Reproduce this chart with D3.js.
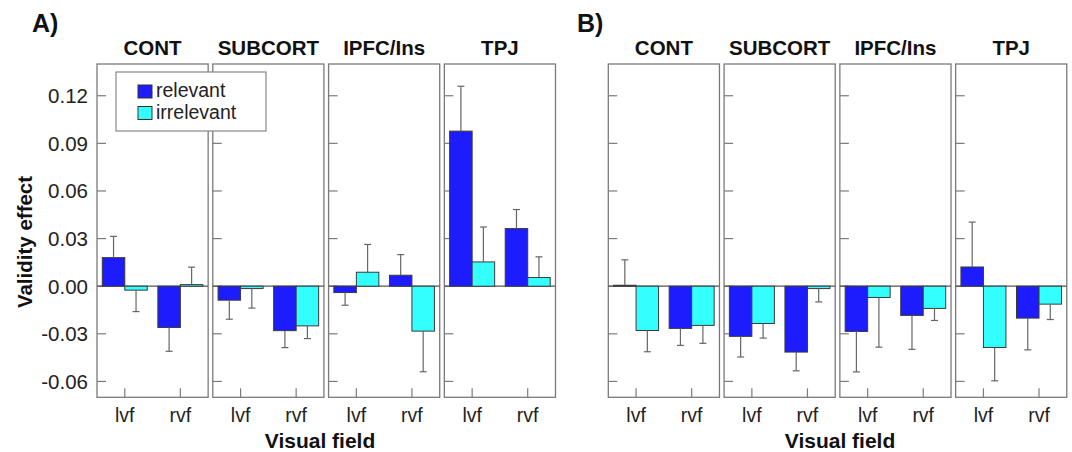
<!DOCTYPE html>
<html lang="en">
<head>
  <meta charset="utf-8" />
  <title>Validity effect by region</title>
  <script src="https://cdn.jsdelivr.net/npm/d3@7"></script>
  <style>
    body {
      margin: 0;
      background: #fff;
      font-family: "Liberation Sans", Arial, Helvetica, sans-serif;
    }
  </style>
</head>
<body>
  <div id="chart"></div>

  <script type="text/javascript">

    // ---- data ----
    const regions = ["CONT", "SUBCORT", "IPFC/Ins", "TPJ"];
    const fields = ["lvf", "rvf"];
    const series = ["relevant", "irrelevant"];
    const yTicks = [-0.06, -0.03, 0.00, 0.03, 0.06, 0.09, 0.12];

    // values per region: [lvf relevant, lvf irrelevant, rvf relevant, rvf irrelevant]
    const meansA = [
      [0.018, -0.0025, -0.026, 0.001],
      [-0.0088, -0.0015, -0.028, -0.025],
      [-0.004, 0.0088, 0.0069, -0.0283],
      [0.0977, 0.0153, 0.0363, 0.0055]
    ];
    const errA = [
      [0.0134, 0.0135, 0.015, 0.011],
      [0.012, 0.0123, 0.0107, 0.008],
      [0.008, 0.0175, 0.013, 0.0256],
      [0.0283, 0.022, 0.012, 0.013]
    ];
    const meansB = [
      [0.0006, -0.0279, -0.0266, -0.0247],
      [-0.0316, -0.0235, -0.0415, -0.0015],
      [-0.0285, -0.0071, -0.0184, -0.014],
      [0.0121, -0.0386, -0.0201, -0.0113]
    ];
    const errB = [
      [0.016, 0.0134, 0.0107, 0.0113],
      [0.013, 0.0092, 0.0118, 0.0084],
      [0.0255, 0.0313, 0.0214, 0.0076],
      [0.0283, 0.021, 0.020, 0.0097]
    ];

    const w = 1072;
    const h = 452;
    const plotTop = 64;
    const plotBottom = 397.3;

    const color = d3.scaleOrdinal()
        .domain(series)
        .range(["#1c1cff", "#33ffff"]);

    const y = d3.scaleLinear()
        .domain([-0.07, 0.14])
        .range([plotBottom, plotTop]);

    const svg = d3.select("#chart")
        .append("svg")
        .attr("width", w)
        .attr("height", h);

    function toRows(means, errs) {
      const rows = [];
      regions.forEach((r, ri) => {
        fields.forEach((f, fi) => {
          series.forEach((s, si) => {
            rows.push({ region: r, field: f, series: s,
                        value: means[ri][fi * 2 + si],
                        err: errs[ri][fi * 2 + si] });
          });
        });
      });
      return rows;
    }

    function drawFigure(x0, x1, letter, letterX, titleX, means, errs, withLabels) {
      const rows = toRows(means, errs);

      const xPanel = d3.scaleBand()
          .domain(regions)
          .range([x0, x1])
          .paddingInner(0.04);
      const pw = xPanel.bandwidth();

      const xField = d3.scalePoint()
          .domain(fields)
          .range([0, pw])
          .padding(0.5);

      const xSeries = d3.scaleBand()
          .domain(series)
          .range([-22.5, 22.5]);

      const g = svg.append("g");

      // letter
      g.append("text")
          .attr("x", letterX)
          .attr("y", 32)
          .attr("font-size", 25)
          .attr("font-weight", "bold")
          .attr("fill", "#111")
          .text(letter);

      const panels = g.selectAll("g.panel")
          .data(regions)
          .enter()
          .append("g")
          .attr("class", "panel")
          .attr("transform", d => "translate(" + xPanel(d) + ",0)");

      // panel titles
      panels.append("text")
          .attr("x", pw / 2)
          .attr("y", 55)
          .attr("text-anchor", "middle")
          .attr("font-size", 20.5)
          .attr("font-weight", "bold")
          .attr("fill", "#111")
          .text(d => d);

      // frame
      panels.append("rect")
          .attr("x", 0)
          .attr("y", plotTop)
          .attr("width", pw)
          .attr("height", plotBottom - plotTop)
          .attr("fill", "none")
          .attr("stroke", "#7a7a7a")
          .attr("stroke-width", 1.3);

      // y ticks (inward)
      panels.selectAll("line.ytick")
          .data(yTicks)
          .enter()
          .append("line")
          .attr("class", "ytick")
          .attr("x1", 0)
          .attr("x2", 9)
          .attr("y1", d => y(d))
          .attr("y2", d => y(d))
          .attr("stroke", "#7a7a7a")
          .attr("stroke-width", 1.2);

      // x ticks (inward)
      panels.selectAll("line.xtick")
          .data(fields)
          .enter()
          .append("line")
          .attr("class", "xtick")
          .attr("x1", d => xField(d))
          .attr("x2", d => xField(d))
          .attr("y1", plotBottom)
          .attr("y2", plotBottom - 9)
          .attr("stroke", "#7a7a7a")
          .attr("stroke-width", 1.2);

      // x labels
      panels.selectAll("text.xlab")
          .data(fields)
          .enter()
          .append("text")
          .attr("class", "xlab")
          .attr("x", d => xField(d))
          .attr("y", 422)
          .attr("text-anchor", "middle")
          .attr("font-size", 19.5)
          .attr("fill", "#222")
          .text(d => d);

      // zero line
      panels.append("line")
          .attr("x1", 0)
          .attr("x2", pw)
          .attr("y1", y(0))
          .attr("y2", y(0))
          .attr("stroke", "#555")
          .attr("stroke-width", 1.2);

      // bars
      panels.each(function(region) {
        const p = d3.select(this);
        const data = rows.filter(r => r.region === region);
        const bx = d => xField(d.field) + xSeries(d.series);

        p.selectAll("rect.bar")
            .data(data)
            .enter()
            .append("rect")
            .attr("class", "bar")
            .attr("x", bx)
            .attr("y", d => y(Math.max(0, d.value)))
            .attr("width", xSeries.bandwidth())
            .attr("height", d => Math.abs(y(d.value) - y(0)))
            .attr("fill", d => color(d.series))
            .attr("stroke", "#3a3a3a")
            .attr("stroke-width", 1);

        // one-sided error bars
        const tip = d => y(d.value + Math.sign(d.value) * d.err);
        const cx = d => bx(d) + xSeries.bandwidth() / 2;

        p.selectAll("line.err")
            .data(data)
            .enter()
            .append("line")
            .attr("class", "err")
            .attr("x1", cx)
            .attr("x2", cx)
            .attr("y1", d => y(d.value))
            .attr("y2", tip)
            .attr("stroke", "#666")
            .attr("stroke-width", 1.2);

        p.selectAll("line.cap")
            .data(data)
            .enter()
            .append("line")
            .attr("class", "cap")
            .attr("x1", d => cx(d) - 3.5)
            .attr("x2", d => cx(d) + 3.5)
            .attr("y1", tip)
            .attr("y2", tip)
            .attr("stroke", "#666")
            .attr("stroke-width", 1.2);
      });

      // y tick labels on first panel only
      if (withLabels) {
        g.selectAll("text.ylab")
            .data(yTicks)
            .enter()
            .append("text")
            .attr("class", "ylab")
            .attr("x", x0 - 9)
            .attr("y", d => y(d))
            .attr("dy", "0.36em")
            .attr("text-anchor", "end")
            .attr("font-size", 20.5)
            .attr("fill", "#222")
            .text(d => d3.format(".2f")(d).replace("−", "-"));

        g.append("text")
            .attr("transform", "translate(32," + 242 + ") rotate(-90)")
            .attr("text-anchor", "middle")
            .attr("font-size", 20.5)
            .attr("font-weight", "bold")
            .attr("fill", "#111")
            .text("Validity effect");
      }

      // x axis title
      g.append("text")
          .attr("x", titleX)
          .attr("y", 448)
          .attr("text-anchor", "middle")
          .attr("font-size", 21)
          .attr("font-weight", "bold")
          .attr("fill", "#111")
          .text("Visual field");

      return xPanel;
    }

    drawFigure(97, 555.5, "A)", 32, 320, meansA, errA, true);
    drawFigure(608.3, 1066.8, "B)", 577, 840, meansB, errB, false);

    // legend (over the first panels of A)
    const legend = svg.append("g")
        .attr("class", "legend")
        .attr("transform", "translate(116,72)");

    legend.append("rect")
        .attr("width", 150)
        .attr("height", 59)
        .attr("fill", "#fff")
        .attr("stroke", "#888")
        .attr("stroke-width", 1.2);

    legend.selectAll("rect.key")
        .data(series)
        .enter()
        .append("rect")
        .attr("class", "key")
        .attr("x", 22)
        .attr("y", (d, i) => 13 + i * 21.5)
        .attr("width", 14)
        .attr("height", 13)
        .attr("fill", d => color(d))
        .attr("stroke", "#333");

    legend.selectAll("text")
        .data(series)
        .enter()
        .append("text")
        .attr("x", 40)
        .attr("y", (d, i) => 25 + i * 21.5)
        .attr("font-size", 19.5)
        .attr("fill", "#222")
        .text(d => d);

  </script>
</body>
</html>
